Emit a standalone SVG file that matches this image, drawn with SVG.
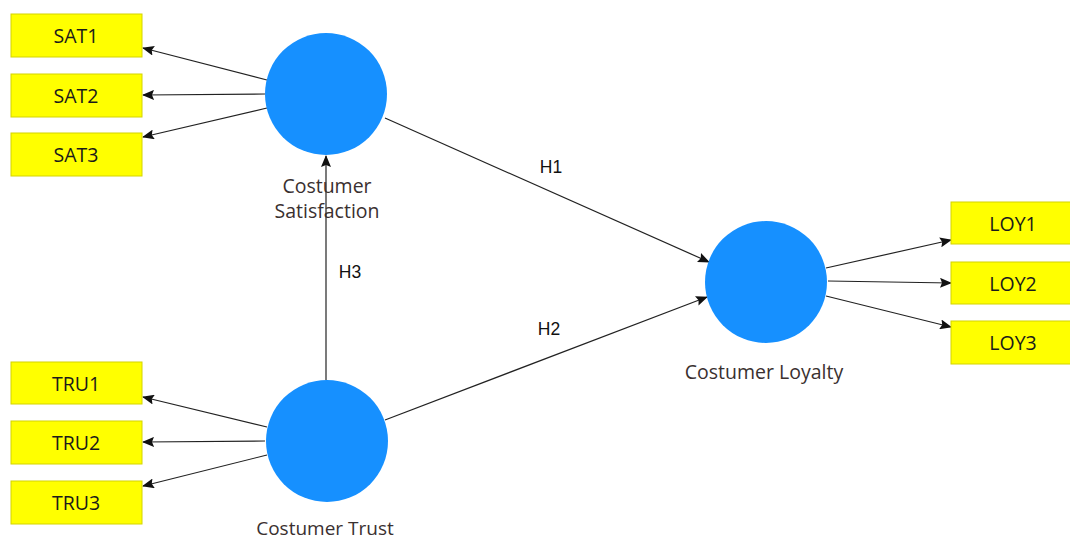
<svg xmlns="http://www.w3.org/2000/svg" width="1070" height="541" viewBox="0 0 1070 541">
<defs>
<style>
.box{fill:#ffff00;stroke:#d4d400;stroke-width:1}
.bt{font-family:"Open Sans","Noto Sans",sans-serif;font-size:19.5px;fill:#1a1a1a;text-anchor:middle}
.lv{fill:#1690ff}
.lt{font-family:"Open Sans","Noto Sans",sans-serif;font-size:19.5px;fill:#3a3030;text-anchor:middle}
.ln{stroke:#222;stroke-width:1.2;fill:none;marker-end:url(#ah)}
.hl{font-family:"Liberation Sans",Arial,sans-serif;font-size:17.5px;fill:#111;text-anchor:middle}
</style>
<marker id="ah" viewBox="0 0 12 10" refX="11" refY="5" markerWidth="12" markerHeight="10" markerUnits="userSpaceOnUse" orient="auto">
<path d="M0,0 L12,5 L0,10 L2,5 Z" fill="#111"/>
</marker>
</defs>
<rect width="1070" height="541" fill="#fff"/>
<g id="connectors">
<line class="ln" x1="267" y1="80" x2="143" y2="48"/>
<line class="ln" x1="265" y1="94" x2="143" y2="95"/>
<line class="ln" x1="267" y1="108" x2="143" y2="137"/>
<line class="ln" x1="267" y1="427" x2="143" y2="397"/>
<line class="ln" x1="265" y1="441" x2="143" y2="442"/>
<line class="ln" x1="267" y1="455" x2="143" y2="486"/>
<line class="ln" x1="826" y1="268" x2="951" y2="240"/>
<line class="ln" x1="828" y1="281" x2="951" y2="283"/>
<line class="ln" x1="826" y1="296" x2="951" y2="327"/>
<line class="ln" x1="385" y1="118" x2="709" y2="262"/>
<line class="ln" x1="385" y1="420" x2="707" y2="297"/>
<line class="ln" x1="326" y1="380" x2="326" y2="156"/>
<text class="hl" x="551" y="173">H1</text>
<text class="hl" x="549" y="335">H2</text>
<text class="hl" x="350" y="278">H3</text>
</g>
<g id="SAT1"><rect class="box" x="11" y="14" width="131" height="43"/><text class="bt" x="76" y="43">SAT1</text></g>
<g id="SAT2"><rect class="box" x="11" y="74" width="131" height="43"/><text class="bt" x="76" y="103">SAT2</text></g>
<g id="SAT3"><rect class="box" x="11" y="133" width="131" height="43"/><text class="bt" x="76" y="162">SAT3</text></g>
<g id="TRU1"><rect class="box" x="11" y="362" width="131" height="42"/><text class="bt" x="76" y="391">TRU1</text></g>
<g id="TRU2"><rect class="box" x="11" y="421" width="131" height="43"/><text class="bt" x="76" y="450">TRU2</text></g>
<g id="TRU3"><rect class="box" x="11" y="481" width="131" height="43"/><text class="bt" x="76" y="510">TRU3</text></g>
<g id="LOY1"><rect class="box" x="951" y="202" width="125" height="42"/><text class="bt" x="1013" y="231">LOY1</text></g>
<g id="LOY2"><rect class="box" x="951" y="262" width="125" height="42"/><text class="bt" x="1013" y="291">LOY2</text></g>
<g id="LOY3"><rect class="box" x="951" y="321" width="125" height="43"/><text class="bt" x="1013" y="350">LOY3</text></g>
<g id="satisfaction"><circle class="lv" cx="326" cy="94" r="61"/><text class="lt" x="327" y="193">Costumer</text><text class="lt" x="327" y="218">Satisfaction</text></g>
<g id="trust"><circle class="lv" cx="327" cy="441" r="61"/><text class="lt" x="325" y="535" style="font-size:19px">Costumer Trust</text></g>
<g id="loyalty"><circle class="lv" cx="766" cy="282" r="61"/><text class="lt" x="764" y="379">Costumer Loyalty</text></g>
</svg>
